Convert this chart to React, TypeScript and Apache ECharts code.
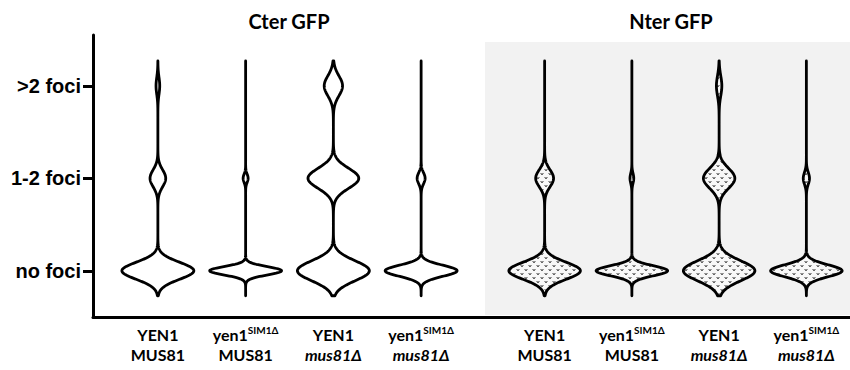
import React, { useEffect, useRef } from "react";
import * as echarts from "echarts";

// ---- data ----
const groupTitles = ["Cter GFP", "Nter GFP"];
const focusLevels = ["no foci", "1-2 foci", ">2 foci"];
const categories = [
  "{b|YEN1}\n{b|MUS81}",
  "{b|yen1}{sup|SIM1Δ}\n{b|MUS81}",
  "{b|YEN1}\n{it|mus81Δ}",
  "{b|yen1}{sup|SIM1Δ}\n{it|mus81Δ}",
];
// share of cells (%) in each foci class, per genotype
const cterNoFoci = [78, 93.5, 51, 90];
const cterOneTwoFoci = [17, 6.5, 36, 10];
const cterMoreFoci = [4, 0, 13, 0];
const nterNoFoci = [80, 95, 66, 92];
const nterOneTwoFoci = [20, 5, 29, 8];
const nterMoreFoci = [0, 0, 5, 0];
// kernel bandwidth (in foci-class units) of each violin
const cterBandwidth = [0.092, 0.045, 0.108, 0.06];
const nterBandwidth = [0.092, 0.054, 0.108, 0.065];

const Y_MIN = -0.5;
const Y_MAX = 2.55;
const KDE_LOW = -0.27;
const KDE_HIGH = 2.27;

function makePattern(): HTMLCanvasElement {
  const c = document.createElement("canvas");
  c.width = 8;
  c.height = 8;
  const ctx = c.getContext("2d")!;
  ctx.fillStyle = "#f8f8f8";
  ctx.fillRect(0, 0, 8, 8);
  ctx.strokeStyle = "#3a3a3a";
  ctx.lineWidth = 1;
  const v = (x: number, y: number) => {
    ctx.beginPath();
    ctx.moveTo(x - 1.3, y - 1);
    ctx.lineTo(x, y + 0.9);
    ctx.lineTo(x + 1.3, y - 1);
    ctx.stroke();
  };
  v(2, 2);
  v(6, 6);
  return c;
}

function violinRenderer(fill: any) {
  return (params: any, api: any) => {
    const idx = api.value(0);
    const p = [api.value(1), api.value(2), api.value(3)];
    const h = api.value(4);
    const band = api.size([1, 0])[0];
    const maxHalf = band * 0.41;
    const ys: number[] = [];
    const steps = 500;
    for (let j = 0; j <= steps; j++) ys.push(KDE_LOW + ((KDE_HIGH - KDE_LOW) * j) / steps);
    const dens = ys.map((y) =>
      p.reduce((s, pk, k) => s + pk * Math.exp(-((y - k) * (y - k)) / (2 * h * h)), 0)
    );
    const max = Math.max(...dens);
    const right: number[][] = [];
    const left: number[][] = [];
    ys.forEach((y, j) => {
      const c = api.coord([idx, y]);
      const w = (dens[j] / max) * maxHalf;
      right.push([c[0] + w, c[1]]);
      left.push([c[0] - w, c[1]]);
    });
    const points = right.concat(left.reverse());
    return {
      type: "polygon",
      shape: { points },
      style: { fill, stroke: "#000", lineWidth: 2.8, lineJoin: "round" },
    };
  };
}

export default function App() {
  const ref = useRef<HTMLDivElement>(null);
  useEffect(() => {
    if (!ref.current) return;
    const chart = echarts.init(ref.current, null, { renderer: "svg" });
    const pattern = makePattern();

    const cterData = categories.map((_, i) => [i, cterNoFoci[i], cterOneTwoFoci[i], cterMoreFoci[i], cterBandwidth[i]]);
    const nterData = categories.map((_, i) => [i, nterNoFoci[i], nterOneTwoFoci[i], nterMoreFoci[i], nterBandwidth[i]]);

    const labelRich = {
      b: { fontFamily: "Lato", fontWeight: "bold", fontSize: 16, lineHeight: 19.5, color: "#000" },
      it: { fontFamily: "Lato", fontWeight: "bold", fontStyle: "italic", fontSize: 16, lineHeight: 19.5, color: "#000" },
      sup: { fontFamily: "Lato", fontWeight: "bold", fontSize: 10, lineHeight: 10, verticalAlign: "top", color: "#000" },
    };

    const catAxis = (gridIndex: number) => ({
      type: "category",
      gridIndex,
      data: categories,
      boundaryGap: true,
      axisLine: { show: false },
      axisTick: { show: false },
      axisLabel: { margin: 8, interval: 0, rich: labelRich, formatter: (v: string) => v },
    });
    const hiddenY = (gridIndex: number) => ({
      type: "value",
      gridIndex,
      min: Y_MIN,
      max: Y_MAX,
      show: false,
    });

    chart.setOption({
      animation: false,
      backgroundColor: "#fff",
      textStyle: { fontFamily: "Liberation Sans" },
      graphic: [
        {
          type: "rect",
          silent: true,
          z: -10,
          shape: { x: 485, y: 42, width: 365, height: 273 },
          style: { fill: "#f2f2f2" },
        },
        {
          type: "text",
          x: 289,
          y: 21,
          style: {
            text: groupTitles[0],
            align: "center",
            verticalAlign: "middle",
            fontFamily: "Lato",
            fontWeight: "bold",
            fontSize: 20,
            fill: "#000",
          },
        },
        {
          type: "text",
          x: 671,
          y: 21,
          style: {
            text: groupTitles[1],
            align: "center",
            verticalAlign: "middle",
            fontFamily: "Lato",
            fontWeight: "bold",
            fontSize: 20,
            fill: "#000",
          },
        },
      ],
      grid: [
        { left: 93, right: 0, top: 35, bottom: 53 },
        { left: 114, width: 351, top: 35, bottom: 53 },
        { left: 501, right: 0, top: 35, bottom: 53 },
      ],
      xAxis: [
        {
          type: "value",
          gridIndex: 0,
          min: 0,
          max: 1,
          axisLine: { show: true, onZero: false, lineStyle: { color: "#000", width: 3 } },
          axisTick: { show: false },
          axisLabel: { show: false },
          splitLine: { show: false },
        },
        catAxis(1),
        catAxis(2),
      ],
      yAxis: [
        {
          type: "value",
          gridIndex: 0,
          min: Y_MIN,
          max: Y_MAX,
          axisLine: { show: true, onZero: false, lineStyle: { color: "#000", width: 3 } },
          axisTick: {
            show: true,
            length: 10,
            customValues: [0, 1, 2],
            lineStyle: { color: "#000", width: 3 },
          },
          axisLabel: {
            customValues: [0, 1, 2],
            margin: 12,
            formatter: (v: number) => focusLevels[Math.round(v)] ?? "",
            fontFamily: "Liberation Sans",
            fontWeight: "bold",
            fontSize: 20,
            color: "#000",
          },
          splitLine: { show: false },
        },
        hiddenY(1),
        hiddenY(2),
      ],
      series: [
        {
          name: groupTitles[0],
          type: "custom",
          xAxisIndex: 1,
          yAxisIndex: 1,
          data: cterData,
          renderItem: violinRenderer("#fff"),
          z: 3,
        },
        {
          name: groupTitles[1],
          type: "custom",
          xAxisIndex: 2,
          yAxisIndex: 2,
          data: nterData,
          renderItem: violinRenderer({ image: pattern, repeat: "repeat" }),
          z: 3,
        },
      ],
    });
    return () => chart.dispose();
  }, []);
  return <div ref={ref} style={{ width: 850, height: 370, position: "absolute", left: 0, top: 0 }} />;
}
